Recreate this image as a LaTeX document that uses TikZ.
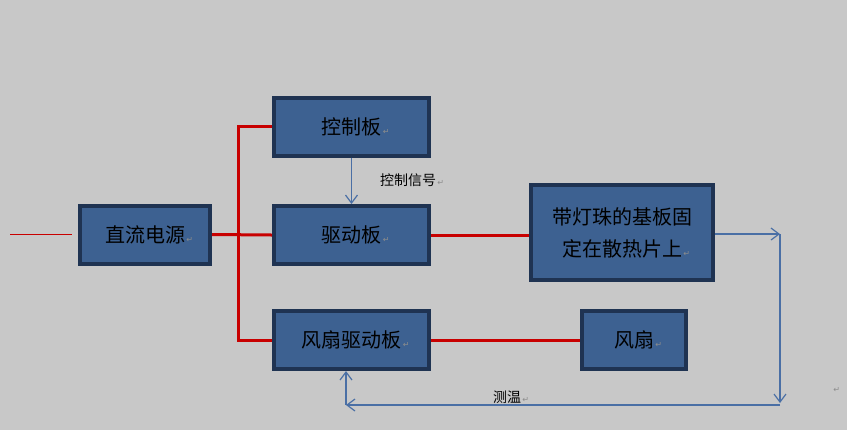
\documentclass[tikz,border=0pt]{standalone}
\usepackage{fontspec}
\setmainfont{Noto Sans CJK SC}
\newfontfamily\symfont{DejaVu Sans}
\usetikzlibrary{positioning,arrows.meta}

\definecolor{bggray}{RGB}{200,200,200}
\definecolor{boxblue}{RGB}{61,97,145}
\definecolor{boxedge}{RGB}{31,51,82}
\definecolor{wirered}{RGB}{200,0,0}
\definecolor{sigblue}{RGB}{74,111,165}
\newcommand{\parmark}{{\symfont\fontsize{6}{6}\selectfont\color{black!45}\,↵}}

\begin{document}
\begin{tikzpicture}[
  x=0.75pt,y=-0.75pt,
  box/.style={rectangle,draw=boxedge,line width=3pt,fill=boxblue,inner sep=0pt,align=center,
    minimum width=#1,minimum height=43.5pt,font=\fontsize{15}{24}\selectfont},
  power/.style={draw=wirered,line width=2.25pt},
  signal/.style={-{Straight Barb[length=6pt,width=9pt]},draw=sigblue,line width=0.9pt},
  siglabel/.style={font=\fontsize{10.5}{12}\selectfont,inner sep=0pt},
]

% background
\fill[bggray] (0,0) rectangle (847,430);
\useasboundingbox (0,0) rectangle (847,430);

% === BOXES ===
\node[box=97.5pt] (supply) at (145,234.5) {直流电源\rlap{\parmark}};
\node[box=116.25pt] (ctrl) at (351.5,126.5) {控制板\rlap{\parmark}};
\node[box=116.25pt] (drive) at (351.5,235) {驱动板\rlap{\parmark}};
\node[box=136.5pt,minimum height=71.25pt] (ledboard) at (622,232.5) {带灯珠的基板固\\定在散热片上\rlap{\parmark}};
\node[box=116.25pt] (fandrive) at (351.5,340) {风扇驱动板\rlap{\parmark}};
\node[box=78pt] (fan) at (634,340) {风扇\rlap{\parmark}};

% corner points of the wiring
\coordinate (input) at (10,234.5);
\coordinate (bustop) at (238,126.5);
\coordinate (busbot) at (238,340);
\coordinate (sensR) at (780,234);
\coordinate (sensB) at (780,405);
\coordinate (sensL) at (346,405);

% === POWER WIRES ===
\draw[wirered,line width=0.75pt] (input) -- ([xshift=-4.5pt]supply.west);
\draw[power] (supply.east) -- (drive.west);
\draw[power] (ctrl.west) -- (bustop) -- (busbot) -- (fandrive.west);
\draw[power] (drive.east) -- (ledboard.west |- drive.east);
\draw[power] (fandrive.east) -- (fan.west);

% === SIGNALS ===
\draw[signal] (ctrl.south) -- (drive.north);
\node[siglabel] (ctrltxt) at (408,180) {控制信号\rlap{\parmark}};

\draw[signal] (ledboard.east |- sensR) -- (sensR);
\draw[signal] (sensR) -- ([yshift=1.5pt]sensB);
\draw[signal] (sensB) -- (sensL);
\draw[signal] (sensL) -- (sensL |- fandrive.south);
\node[siglabel] (temptxt) at (507,397) {测温\rlap{\parmark}};

\node[inner sep=0pt] (stray) at (836,390) {\parmark};

\end{tikzpicture}
\end{document}
